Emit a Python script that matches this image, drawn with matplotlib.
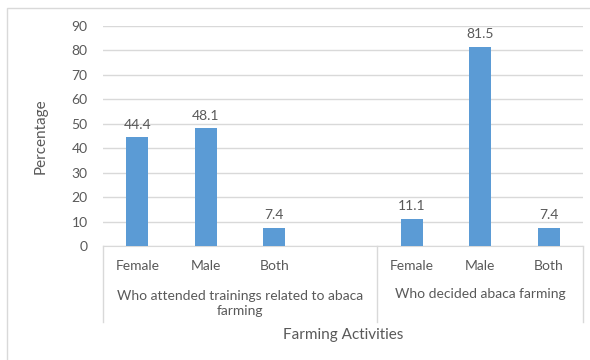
import matplotlib
matplotlib.use("Agg")
import matplotlib.pyplot as plt
from matplotlib.patches import Rectangle

groups = ["Who attended trainings related to abaca\nfarming", "Who decided abaca farming"]
categories = [["Female", "Male", "Both", ""], ["Female", "Male", "Both"]]
values = [[44.4, 48.1, 7.4, None], [11.1, 81.5, 7.4]]
yticks = [0, 10, 20, 30, 40, 50, 60, 70, 80, 90]
xlabel = "Farming Activities"
ylabel = "Percentage"

plt.rcParams['font.family'] = ['Lato', 'DejaVu Sans']
TXT = "#595959"
BAR = "#5B9BD5"
GRID = "#D9D9D9"
FS = 10

fig = plt.figure(figsize=(5.9, 3.6), dpi=100)
fig.patches.append(Rectangle((7/590, -0.1), 1.2, 1 - 8/360 + 0.1, transform=fig.transFigure,
                             fill=False, edgecolor=GRID, linewidth=1))
ax = fig.add_axes([103/590, 1 - 246/360, 480/590, 220/360])

n_total = sum(len(c) for c in categories)
pos = 0
bounds = [pos]
for gi, (cats, vals) in enumerate(zip(categories, values)):
    start = pos
    for c, v in zip(cats, vals):
        if v is not None:
            ax.bar(pos, v, width=0.32, color=BAR, zorder=3)
            ax.annotate(f"{v:.1f}", (pos, v), xytext=(0, 9), textcoords="offset points",
                        ha="center", va="center", color=TXT, fontsize=FS)
        ax.text(pos, -0.091, c, transform=ax.get_xaxis_transform(), ha="center", va="center",
                color=TXT, fontsize=FS)
        pos += 1
    center = start + (len(cats) - 1) / 2
    ax.text(center, -0.218 if "\n" not in groups[gi] else -0.26, groups[gi],
            transform=ax.get_xaxis_transform(), ha="center", va="center",
            color=TXT, fontsize=FS, linespacing=1.3)
    bounds.append(pos)

for b in bounds:
    ax.plot([b - 0.5, b - 0.5], [0, -0.345], transform=ax.get_xaxis_transform(),
            color=GRID, linewidth=1, clip_on=False)

ax.set_xlim(-0.5, n_total - 0.5)
ax.set_ylim(0, 90)
ax.set_yticks(yticks)
ax.set_xticks([])
ax.yaxis.grid(True, color=GRID, linewidth=1, zorder=0)
ax.set_axisbelow(True)
for s in ["top", "right", "left"]:
    ax.spines[s].set_visible(False)
ax.spines["bottom"].set_color(GRID)
ax.tick_params(axis="y", length=0, pad=11, labelcolor=TXT, labelsize=FS)
ax.set_ylabel(ylabel, color=TXT, fontsize=11)
ax.yaxis.set_label_coords(-0.115, 0.5)
ax.text(0.5, -0.405, xlabel, transform=ax.transAxes, ha="center", va="center",
        color=TXT, fontsize=11)

fig.savefig("out.png", dpi=100)
